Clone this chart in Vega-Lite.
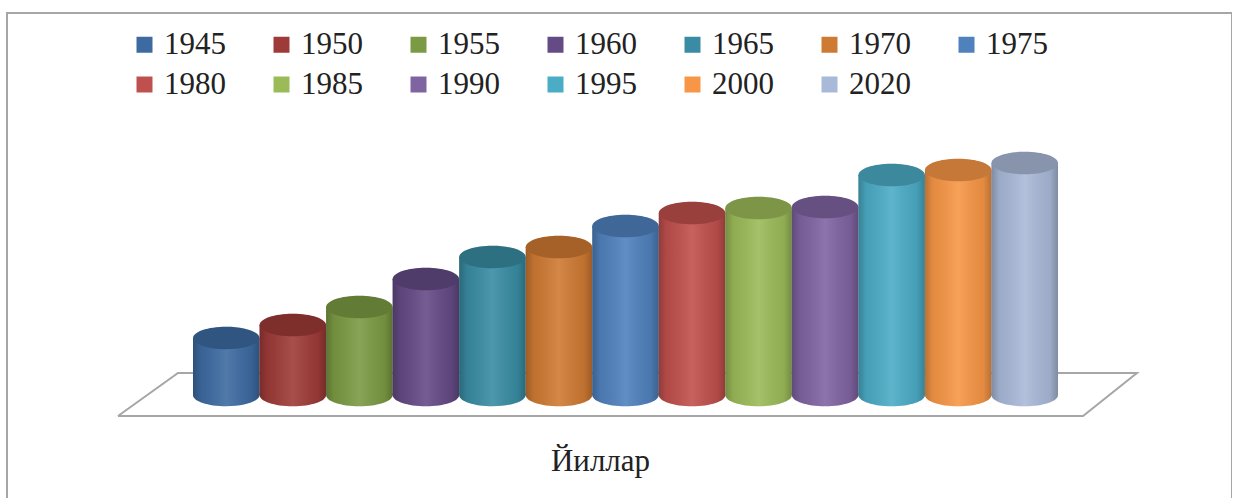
{
  "$schema": "https://vega.github.io/schema/vega-lite/v6.json",
  "width": 1225,
  "height": 490,
  "autosize": {"type": "none"},
  "padding": {"left": 7, "top": 13, "right": 0, "bottom": 0},
  "background": "white",
  "config": {
    "view": {"stroke": "#A6A6A6", "strokeWidth": 2},
    "font": "Liberation Serif",
    "legend": {"labelFont": "Liberation Serif", "titleFont": "Liberation Serif"}
  },
  "datasets": {
    "bars": [
      {"year": "1945", "value": 57},
      {"year": "1950", "value": 70},
      {"year": "1955", "value": 88},
      {"year": "1960", "value": 116},
      {"year": "1965", "value": 138},
      {"year": "1970", "value": 148},
      {"year": "1975", "value": 169},
      {"year": "1980", "value": 182},
      {"year": "1985", "value": 187},
      {"year": "1990", "value": 188},
      {"year": "1995", "value": 220},
      {"year": "2000", "value": 225},
      {"year": "2020", "value": 232}
    ],
    "floor": [
      {"o": 1, "fx": 9.06, "fy": -21},
      {"o": 2, "fx": 87.84, "fy": -21},
      {"o": 3, "fx": 92.24, "fy": 22},
      {"o": 4, "fx": 13.96, "fy": 22},
      {"o": 5, "fx": 9.06, "fy": -21}
    ]
  },
  "resolve": {"scale": {"x": "independent"}},
  "layer": [
    {
      "data": {"name": "floor"},
      "mark": {"type": "line", "color": "#A6A6A6", "strokeWidth": 2, "strokeJoin": "miter"},
      "encoding": {
        "x": {"field": "fx", "type": "quantitative", "scale": {"domain": [0, 100], "nice": false, "zero": false}, "axis": null},
        "y": {"field": "fy", "type": "quantitative", "scale": {"domain": [-108, 382], "nice": false, "zero": false}, "axis": null},
        "order": {"field": "o"}
      }
    },
    {
      "data": {"name": "bars"},
      "encoding": {
        "x": {
          "field": "year",
          "type": "nominal",
          "sort": null,
          "scale": {"paddingInner": 0, "paddingOuter": 0, "range": [186, 1051]},
          "axis": {
            "title": "Йиллар",
            "labels": false,
            "ticks": false,
            "domain": false,
            "grid": false,
            "titleFont": "Liberation Serif",
            "titleFontSize": 31,
            "titleFontWeight": "normal",
            "titleColor": "#222222",
            "titleBaseline": "alphabetic",
            "titleAlign": "center",
            "titleAnchor": "start",
            "titleX": 593,
            "titleY": -33
          }
        }
      },
      "layer": [
        {
          "mark": {"type": "point", "filled": true, "opacity": 1, "shape": "M-1,0A1,0.34,0,1,0,1,0A1,0.34,0,1,0,-1,0Z", "size": 4422, "strokeWidth": 0},
          "encoding": {
            "y": {"datum": 0, "type": "quantitative", "axis": null},
            "color": {"field": "year", "type": "nominal",
              "scale": {"domain": ["1945","1950","1955","1960","1965","1970","1975","1980","1985","1990","1995","2000","2020"],
                "range": ["#3D6BA1","#9E3B38","#7B9A43","#654B86","#398CA3","#CF7A33","#4F81BD","#C0504D","#9BBB59","#8064A2","#4BACC6","#F79646","#A9B9D8"]},
              "legend": {
                "title": null,
                "orient": "none",
                "legendX": 122,
                "legendY": 16,
                "direction": "horizontal",
                "columns": 7,
                "padding": 0,
                "symbolType": "square",
                "symbolSize": 256,
                "symbolStrokeWidth": 0,
                "symbolOpacity": 1,
                "labelFont": "Liberation Serif",
                "labelFontSize": 31,
                "labelColor": "#222222",
                "labelOffset": 4,
                "columnPadding": 40,
                "rowPadding": 8
              }}
          }
        },
        {
          "mark": {"type": "point", "filled": true, "opacity": 1, "shape": "M-1,0A1,0.34,0,1,0,1,0A1,0.34,0,1,0,-1,0Z", "size": 4422, "strokeWidth": 0,
            "color": {"gradient": "linear", "x1": 0, "x2": 1, "y1": 0, "y2": 0,
              "stops": [
                {"offset": 0, "color": "rgba(0,0,0,0.25)"},
                {"offset": 0.12, "color": "rgba(0,0,0,0.08)"},
                {"offset": 0.5, "color": "rgba(255,255,255,0.1)"},
                {"offset": 0.88, "color": "rgba(0,0,0,0.08)"},
                {"offset": 1, "color": "rgba(0,0,0,0.25)"}
              ]}},
          "encoding": {
            "y": {"datum": 0, "type": "quantitative", "axis": null}
          }
        },
        {
          "mark": {"type": "bar", "strokeWidth": 0},
          "encoding": {
            "y": {"field": "value", "type": "quantitative", "axis": null},
            "color": {"field": "year", "type": "nominal"}
          }
        },
        {
          "mark": {"type": "bar", "strokeWidth": 0,
            "color": {"gradient": "linear", "x1": 0, "x2": 1, "y1": 0, "y2": 0,
              "stops": [
                {"offset": 0, "color": "rgba(0,0,0,0.25)"},
                {"offset": 0.12, "color": "rgba(0,0,0,0.08)"},
                {"offset": 0.5, "color": "rgba(255,255,255,0.1)"},
                {"offset": 0.88, "color": "rgba(0,0,0,0.08)"},
                {"offset": 1, "color": "rgba(0,0,0,0.25)"}
              ]}},
          "encoding": {
            "y": {"field": "value", "type": "quantitative", "axis": null}
          }
        },
        {
          "mark": {"type": "point", "filled": true, "opacity": 1, "shape": "M-1,0A1,0.34,0,1,0,1,0A1,0.34,0,1,0,-1,0Z", "size": 4422, "strokeWidth": 0},
          "encoding": {
            "y": {"field": "value", "type": "quantitative", "axis": null},
            "color": {"field": "year", "type": "nominal"}
          }
        },
        {
          "mark": {"type": "point", "filled": true, "opacity": 1, "shape": "M-1,0A1,0.34,0,1,0,1,0A1,0.34,0,1,0,-1,0Z", "size": 4422, "strokeWidth": 0, "color": "rgba(0,0,0,0.2)"},
          "encoding": {
            "y": {"field": "value", "type": "quantitative", "axis": null}
          }
        }
      ]
    }
  ]
}
